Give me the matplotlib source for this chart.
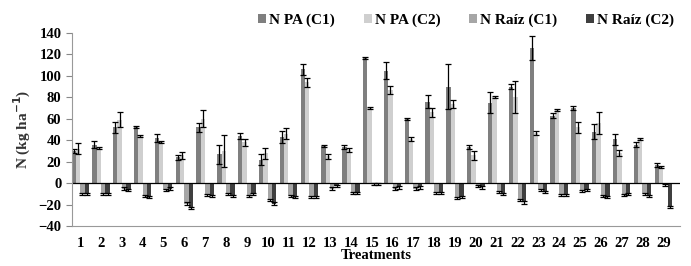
import numpy as np
import matplotlib.pyplot as plt

plt.rcParams['font.family'] = ['Liberation Serif', 'DejaVu Serif']
plt.rcParams['font.weight'] = 'bold'

treatments = [str(i) for i in range(1, 30)]

pa_c1 = [30, 36, 52, 52, 42, 24, 52, 27, 44, 22, 43, 106, 35, 34, 117, 105, 60, 76, 90, 34,
         75, 90, 126, 63, 70, 48, 41, 36, 17]
pa_c1_err = [2, 3, 5, 1, 4, 2, 4, 9, 3, 5, 6, 5, 1, 2, 1, 8, 1, 6, 21, 2,
             10, 2, 11, 2, 2, 7, 5, 2, 2]
pa_c2 = [32, 33, 59, 44, 38, 26, 60, 30, 38, 28, 46, 94, 25, 31, 70, 87, 41, 66, 74, 26,
         80, 80, 47, 68, 52, 56, 28, 41, 15]
pa_c2_err = [5, 1, 7, 1, 1, 3, 8, 15, 3, 5, 5, 4, 2, 2, 1, 4, 2, 4, 4, 4,
             1, 15, 2, 1, 5, 10, 3, 1, 1]
raiz_c1 = [-10, -10, -5, -12, -6, -19, -11, -10, -12, -16, -12, -13, -5, -9, -1, -5, -5, -9, -14, -3,
           -8, -16, -6, -11, -7, -12, -11, -10, -2]
raiz_c2 = [-10, -10, -6, -13, -5, -23, -12, -12, -10, -19, -13, -13, -3, -9, -1, -4, -4, -9, -13, -4,
           -10, -18, -8, -11, -6, -13, -10, -12, -22]
raiz_err = 1

series = [
    ("N PA (C1)", pa_c1, pa_c1_err, "#7f7f7f"),
    ("N PA (C2)", pa_c2, pa_c2_err, "#cfcfcf"),
    ("N Raíz (C1)", raiz_c1, raiz_err, "#a6a6a6"),
    ("N Raíz (C2)", raiz_c2, raiz_err, "#3f3f3f"),
]

fig = plt.figure(figsize=(6.91, 2.66), dpi=100)
ax = fig.add_axes([0.104, 0.150, 0.880, 0.726])

x = np.arange(len(treatments))
w = 0.21
for i, (name, vals, err, col) in enumerate(series):
    ax.bar(x + (i - 1.5) * w, vals, w, color=col, label=name,
           yerr=err, error_kw=dict(ecolor='black', elinewidth=0.9, capsize=2, capthick=0.9))

ax.axhline(0, color='black', linewidth=0.9)
ax.set_ylim(-40, 140)
ax.set_yticks(range(-40, 141, 20))
ax.set_xlim(-0.4, 28.8)
ax.set_xticks(x)
ax.set_xticklabels(treatments)
ax.tick_params(axis='x', length=0, labelsize=10.5, pad=8)
ax.tick_params(axis='y', labelsize=10.5, color='#888888', length=4)
ax.set_ylabel("N (kg ha$^{\\mathbf{-1}}$)", fontsize=11, fontweight='bold', color='#333333',
              labelpad=4)
ax.set_xlabel("Treatments", fontsize=10.5, fontweight='bold', labelpad=-1)

for s in ['top', 'right']:
    ax.spines[s].set_visible(False)
for s in ['left', 'bottom']:
    ax.spines[s].set_color('#999999')

ax.legend(loc='lower right', bbox_to_anchor=(1.0, 1.0), ncol=4, frameon=False,
          fontsize=11, handlelength=0.5, handleheight=0.5, handletextpad=0.2,
          columnspacing=1.9, borderaxespad=0)

fig.savefig("out.png", dpi=100)
